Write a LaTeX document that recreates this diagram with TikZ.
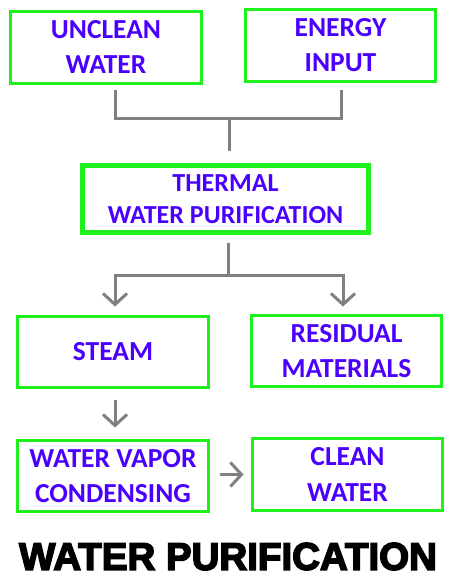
\documentclass[tikz,border=0pt]{standalone}
\usepackage{fontspec}
\setmainfont{Carlito}
\newfontfamily\titlefont[FakeBold=4]{Liberation Sans Bold}
\usetikzlibrary{arrows.meta}
\definecolor{boxgreen}{RGB}{30,240,30}
\definecolor{labelblue}{RGB}{75,0,255}
\definecolor{linkgray}{RGB}{128,128,128}
\begin{document}
\begin{tikzpicture}[x=1pt, y=-1pt,
        stage/.style={draw=boxgreen, line width=3pt, fill=white, align=center,
            text=labelblue, font=\bfseries\fontsize{27.5}{35.7}\selectfont,
            inner sep=0pt, minimum width=191pt, minimum height=72pt},
        link/.style={draw=linkgray, line width=3pt},
        flow/.style={link, -{Straight Barb[length=11pt,width=24pt]}}]
        \useasboundingbox (0,0) rectangle (450,584);

        % Inputs
        \node[stage] (unclean) at (106,47) {UNCLEAN\\WATER};
        \node[stage, minimum width=190pt] (energy) at (340.5,45) {ENERGY\\INPUT};

        % Process
        \node[stage, line width=4.5pt, minimum width=286pt, minimum height=67pt,
            font=\bfseries\fontsize{26}{32}\selectfont] (thermal) at (225.5,199)
            {THERMAL\\WATER PURIFICATION};

        % Outputs
        \node[stage, minimum height=71pt] (steam) at (113,352) {STEAM};
        \node[stage, minimum width=190pt, minimum height=71pt] (residual) at (346.5,351)
            {RESIDUAL\\MATERIALS};
        \node[stage, minimum height=71pt] (vapor) at (113,476) {WATER VAPOR\\CONDENSING};
        \node[stage, minimum width=190pt] (clean) at (347.5,474.5) {CLEAN\\WATER};

        % Title
        \node[font=\titlefont\fontsize{38.5}{40}\selectfont] (title) at (228,556.5)
            {WATER PURIFICATION};

        % Connectors
        \coordinate (topjoin) at (229,118);
        \coordinate (split) at (228,275);
        \draw[link] ([xshift=9pt,yshift=-5pt]unclean.south) |- (topjoin)
            -| ([xshift=0.5pt,yshift=-7pt]energy.south);
        \draw[link] (topjoin) -- ([xshift=3.5pt,yshift=12pt]thermal.north);
        \draw[link] ([xshift=2.5pt,yshift=-8pt]thermal.south) -- (split);
        \draw[flow] (split) -| ([xshift=2pt,yshift=8.5pt]steam.north);
        \draw[flow] (split) -| ([xshift=-3.5pt,yshift=7.5pt]residual.north);
        \draw[flow] ([xshift=2pt,yshift=-10.5pt]steam.south)
            -- ([xshift=2pt,yshift=11.5pt]vapor.north);
        \draw[flow] ([xshift=9.5pt,yshift=1.5pt]vapor.east)
            -- ([xshift=-7.5pt]clean.west);
    \end{tikzpicture}
\end{document}
